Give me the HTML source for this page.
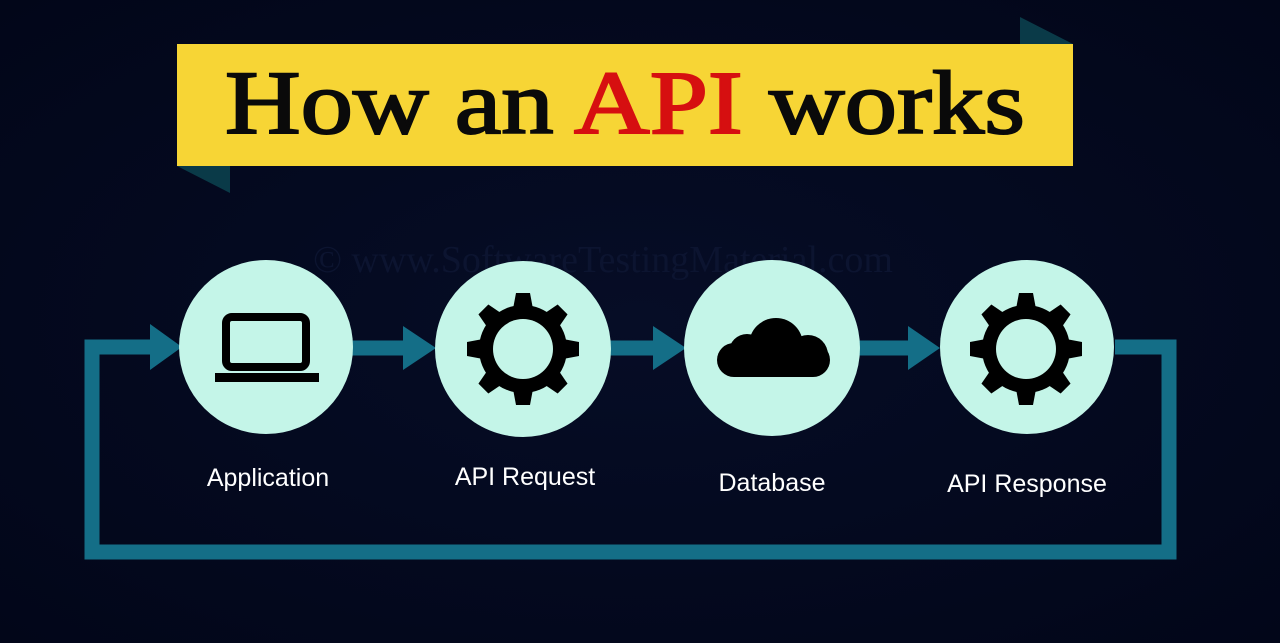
<!DOCTYPE html>
<html><head><meta charset="utf-8"><style>
html,body{margin:0;padding:0;background:#030820;}
svg{display:block}
</style></head><body>
<svg width="1280" height="643" viewBox="0 0 1280 643" xmlns="http://www.w3.org/2000/svg">
<defs>
<radialGradient id="bg" cx="50%" cy="50%" r="70%"><stop offset="0" stop-color="#060d26"/><stop offset="1" stop-color="#020619"/></radialGradient>
<g id="gear">
<circle r="44" fill="#000"/>
<g fill="#000">
<polygon points="-10,-40 10,-40 7,-56 -7,-56"/>
<polygon points="-10,-40 10,-40 7,-56 -7,-56" transform="rotate(45)"/>
<polygon points="-10,-40 10,-40 7,-56 -7,-56" transform="rotate(90)"/>
<polygon points="-10,-40 10,-40 7,-56 -7,-56" transform="rotate(135)"/>
<polygon points="-10,-40 10,-40 7,-56 -7,-56" transform="rotate(180)"/>
<polygon points="-10,-40 10,-40 7,-56 -7,-56" transform="rotate(225)"/>
<polygon points="-10,-40 10,-40 7,-56 -7,-56" transform="rotate(270)"/>
<polygon points="-10,-40 10,-40 7,-56 -7,-56" transform="rotate(315)"/>
</g>
<circle r="30" fill="#c4f5e8"/>
</g>
</defs>
<rect width="1280" height="643" fill="url(#bg)"/>
<polygon points="1020,17 1073,44 1020,44" fill="#0a3a48"/>
<polygon points="177,166 230,166 230,193" fill="#0a3a48"/>
<rect x="177" y="44" width="896" height="122" fill="#f7d535"/>
<text x="225" y="133" textLength="800" lengthAdjust="spacingAndGlyphs" font-family="Liberation Serif, serif" font-size="90" fill="#0a0a0a" stroke="#0a0a0a" stroke-width="2">How an <tspan fill="#d60f10" stroke="#d60f10">API</tspan> works</text>
<text x="603" y="272" text-anchor="middle" font-family="Liberation Serif, serif" font-size="38" fill="#0c1430">© www.SoftwareTestingMaterial.com</text>
<polyline points="1115,347 1169,347 1169,552 92,552 92,347 152,347" fill="none" stroke="#146e87" stroke-width="15"/>
<polygon points="150,324 182,347 150,370" fill="#146e87"/>
<line x1="350" y1="348" x2="405" y2="348" stroke="#146e87" stroke-width="15"/>
<polygon points="403,326 436,348 403,370" fill="#146e87"/>
<line x1="605" y1="348" x2="655" y2="348" stroke="#146e87" stroke-width="15"/>
<polygon points="653,326 686,348 653,370" fill="#146e87"/>
<line x1="855" y1="348" x2="910" y2="348" stroke="#146e87" stroke-width="15"/>
<polygon points="908,326 940,348 908,370" fill="#146e87"/>
<circle cx="266" cy="347" r="87" fill="#c4f5e8"/>
<circle cx="523" cy="349" r="88" fill="#c4f5e8"/>
<circle cx="772" cy="348" r="88" fill="#c4f5e8"/>
<circle cx="1027" cy="347" r="87" fill="#c4f5e8"/>
<rect x="226" y="317" width="80" height="50" rx="6" fill="none" stroke="#000" stroke-width="8"/>
<rect x="215" y="373" width="104" height="9" fill="#000"/>
<use href="#gear" x="523" y="349"/>
<use href="#gear" x="1026" y="349"/>
<g fill="#000">
<rect x="717" y="343" width="113" height="34" rx="17"/>
<circle cx="776" cy="345" r="27"/>
<circle cx="747" cy="352" r="18"/>
<circle cx="808" cy="355" r="20"/>
</g>
<g font-family="Liberation Sans, sans-serif" font-size="25" fill="#ffffff" text-anchor="middle">
<text x="268" y="486">Application</text>
<text x="525" y="485">API Request</text>
<text x="772" y="491">Database</text>
<text x="1027" y="492">API Response</text>
</g>
</svg>
</body></html>
